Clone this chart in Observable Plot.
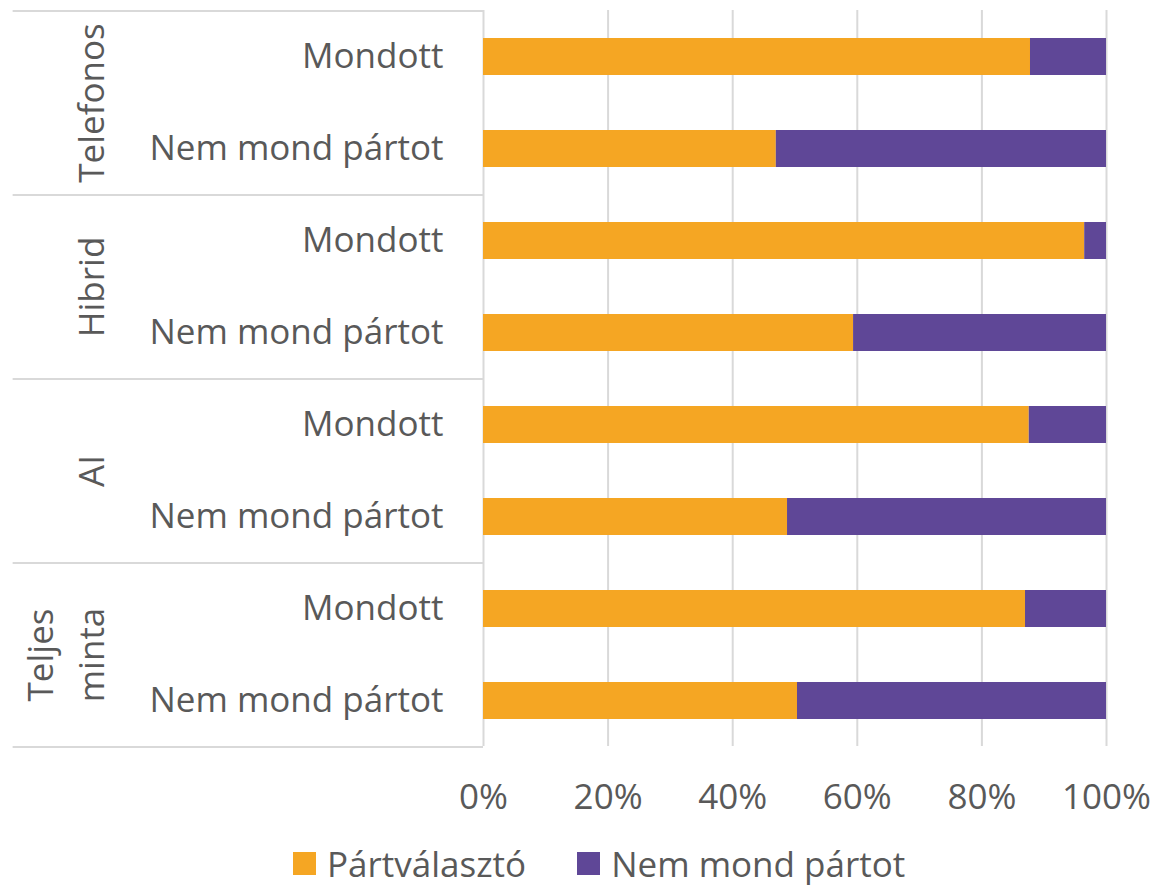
<!DOCTYPE html>
<html>
<head>
<meta charset="utf-8">
<script src="https://cdn.jsdelivr.net/npm/d3@7"></script>
<script src="https://cdn.jsdelivr.net/npm/@observablehq/plot@0.6"></script>
<style>
  body { margin: 0; background: #fff; font-family: "Open Sans", sans-serif; color: #595959; }
  #legend { display: flex; align-items: center; height: 47px; padding-top: 5px; padding-left: 293px; font-size: 35px; }
  #legend .item { display: flex; align-items: center; margin-right: 51px; }
  #legend .sw { width: 23px; height: 23px; margin-right: 11px; }
</style>
</head>
<body>
<div id="chart"></div>
<div id="legend"></div>
<script>
const groups = ["Telefonos", "Telefonos", "Hibrid", "Hibrid", "AI", "AI", "Teljes minta", "Teljes minta"];
const categories = ["Mondott", "Nem mond pártot", "Mondott", "Nem mond pártot", "Mondott", "Nem mond pártot", "Mondott", "Nem mond pártot"];
const partValaszto = [87.8, 47.0, 96.5, 59.4, 87.6, 48.8, 87.0, 50.4];
const nemMondPartot = [12.2, 53.0, 3.5, 40.6, 12.4, 51.2, 13.0, 49.6];
const seriesNames = ["Pártválasztó", "Nem mond pártot"];
const seriesColors = ["#F5A623", "#5F4797"];
const groupNames = ["Telefonos", "Hibrid", "AI", "Teljes minta"];
const groupLabels = ["Telefonos", "Hibrid", "AI", "Teljes\nminta"];
const xTicks = [0, 20, 40, 60, 80, 100];
const TABLE_LEFT = -75.5; // left edge of the category table, in x units

const keys = groups.map((g, i) => `${g}|${categories[i]}`);
const data = [];
keys.forEach((k, i) => {
  data.push({key: k, series: seriesNames[0], value: partValaszto[i]});
  data.push({key: k, series: seriesNames[1], value: nemMondPartot[i]});
});
const groupFirst = groupNames.map(g => `${g}|Mondott`);
const groupLast = groupNames.map(g => `${g}|Nem mond pártot`);

const HALF_STEP = 46;

const chart = Plot.plot({
  width: 1154,
  height: 835,
  marginLeft: 483,
  marginRight: 48,
  marginTop: 10,
  marginBottom: 89,
  style: {fontFamily: "Open Sans", fontSize: "35px", color: "#595959", background: "#fff"},
  x: {domain: [0, 100], ticks: xTicks, label: null},
  y: {domain: keys, paddingInner: 0.6, paddingOuter: 0.3, label: null},
  color: {domain: seriesNames, range: seriesColors},
  marks: [
    Plot.gridX(xTicks, {stroke: "#d9d9d9", strokeOpacity: 1, strokeWidth: 2}),
    Plot.ruleY(groupFirst, {y: d => d, x1: TABLE_LEFT, x2: 0, dy: -HALF_STEP, stroke: "#d9d9d9", strokeWidth: 2}),
    Plot.ruleY(groupLast.slice(-1), {y: d => d, x1: TABLE_LEFT, x2: 0, dy: HALF_STEP, stroke: "#d9d9d9", strokeWidth: 2}),
    Plot.barX(data, Plot.stackX({x: "value", y: "key", fill: "series", order: seriesNames, inset: 0})),
    Plot.axisX({ticks: xTicks, tickSize: 0, tickPadding: 38, tickFormat: d => d + "%", fontSize: 35, label: null}),
    Plot.axisY({tickSize: 0, tickPadding: 40, tickFormat: d => d.split("|")[1], fontSize: 35, label: null}),
    Plot.text(groupFirst, {
      y: d => d,
      text: (d, i) => groupLabels[i],
      frameAnchor: "left",
      dx: -380,
      dy: HALF_STEP,
      rotate: -90,
      textAnchor: "middle",
      lineAnchor: "bottom",
      lineHeight: 1.43,
      fontSize: 35,
      fill: "#595959"
    })
  ]
});
document.getElementById("chart").appendChild(chart);

const legend = document.getElementById("legend");
seriesNames.forEach((name, i) => {
  const item = document.createElement("span");
  item.className = "item";
  const sw = document.createElement("span");
  sw.className = "sw";
  sw.style.background = seriesColors[i];
  const label = document.createElement("span");
  label.textContent = name;
  item.appendChild(sw);
  item.appendChild(label);
  legend.appendChild(item);
});
</script>
</body>
</html>
